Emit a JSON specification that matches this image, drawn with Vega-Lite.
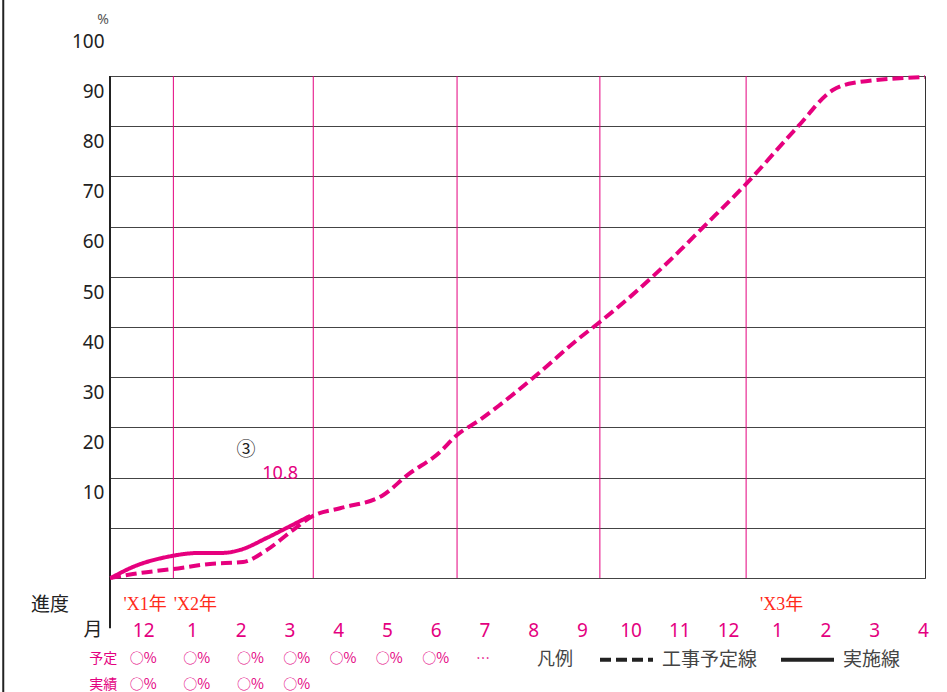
{
  "$schema": "https://vega.github.io/schema/vega-lite/v6.json",
  "width": 815,
  "height": 502,
  "autosize": {"type": "none"},
  "padding": {"left": 110, "top": 76, "right": 22, "bottom": 114},
  "background": "white",
  "config": {"view": {"stroke": "#333", "strokeWidth": 1}},
  "datasets": {
    "curves": [
      {"series": "工事予定線", "x": -0.68, "y": 0},
      {"series": "工事予定線", "x": -0.21, "y": 0.8},
      {"series": "工事予定線", "x": 0.62, "y": 1.8},
      {"series": "工事予定線", "x": 1.37, "y": 2.8},
      {"series": "工事予定線", "x": 2.05, "y": 3.2},
      {"series": "工事予定線", "x": 2.54, "y": 5.6},
      {"series": "工事予定線", "x": 3.08, "y": 9.6},
      {"series": "工事予定線", "x": 3.49, "y": 12.4},
      {"series": "工事予定線", "x": 4.04, "y": 13.9},
      {"series": "工事予定線", "x": 4.92, "y": 16.5},
      {"series": "工事予定線", "x": 5.42, "y": 20.5},
      {"series": "工事予定線", "x": 6.09, "y": 25.1},
      {"series": "工事予定線", "x": 6.44, "y": 28.5},
      {"series": "工事予定線", "x": 6.91, "y": 31.5},
      {"series": "工事予定線", "x": 7.32, "y": 34.5},
      {"series": "工事予定線", "x": 8.14, "y": 41.0},
      {"series": "工事予定線", "x": 8.9, "y": 47.4},
      {"series": "工事予定線", "x": 9.37, "y": 51.0},
      {"series": "工事予定線", "x": 9.99, "y": 56.0},
      {"series": "工事予定線", "x": 11.02, "y": 65.3},
      {"series": "工事予定線", "x": 11.43, "y": 69.3},
      {"series": "工事予定線", "x": 12.39, "y": 78.7},
      {"series": "工事予定線", "x": 13.42, "y": 89.8},
      {"series": "工事予定線", "x": 14.15, "y": 97.2},
      {"series": "工事予定線", "x": 14.56, "y": 98.6},
      {"series": "工事予定線", "x": 16.04, "y": 99.8},
      {"series": "実施線", "x": -0.66, "y": 0},
      {"series": "実施線", "x": -0.21, "y": 2.2},
      {"series": "実施線", "x": 0.49, "y": 4.2},
      {"series": "実施線", "x": 1.17, "y": 5.0},
      {"series": "実施線", "x": 1.64, "y": 5.0},
      {"series": "実施線", "x": 1.99, "y": 5.6},
      {"series": "実施線", "x": 2.54, "y": 8.0},
      {"series": "実施線", "x": 2.95, "y": 10.0},
      {"series": "実施線", "x": 3.43, "y": 12.4}
    ],
    "vlines": [
      {"x": 0.62, "y": 0, "y2": 100},
      {"x": 3.49, "y": 0, "y2": 100},
      {"x": 6.44, "y": 0, "y2": 100},
      {"x": 9.37, "y": 0, "y2": 100},
      {"x": 12.37, "y": 0, "y2": 100}
    ],
    "frameLines": [
      {"x": -0.68, "y": 100, "y2": -10},
      {"x": -2.87, "y": 116, "y2": -23}
    ],
    "blackText": [
      {"x": -1.91, "y": -5.4, "t": "進度"},
      {"x": -1.03, "y": -10.4, "t": "月"},
      {"x": 2.11, "y": 25.5, "t": "③"}
    ],
    "tableText": [
      {"x": -0.82, "y": -16.1, "t": "予定"},
      {"x": 0.0, "y": -16.1, "t": "○%"},
      {"x": 1.1, "y": -16.1, "t": "○%"},
      {"x": 2.2, "y": -16.1, "t": "○%"},
      {"x": 3.15, "y": -16.1, "t": "○%"},
      {"x": 4.1, "y": -16.1, "t": "○%"},
      {"x": 5.05, "y": -16.1, "t": "○%"},
      {"x": 6.0, "y": -16.1, "t": "○%"},
      {"x": 6.97, "y": -16.1, "t": "…"},
      {"x": -0.82, "y": -21.3, "t": "実績"},
      {"x": 0.0, "y": -21.3, "t": "○%"},
      {"x": 1.1, "y": -21.3, "t": "○%"},
      {"x": 2.2, "y": -21.3, "t": "○%"},
      {"x": 3.15, "y": -21.3, "t": "○%"}
    ],
    "yearText": [
      {"x": 0.04, "y": -5.4, "t": "'X1年"},
      {"x": 1.07, "y": -5.4, "t": "'X2年"},
      {"x": 13.1, "y": -5.4, "t": "'X3年"}
    ],
    "valueText": [{"x": 2.81, "y": 20.7, "t": "10.8"}],
    "unitText": [{"x": -0.82, "y": 111.2, "t": "%"}]
  },
  "encoding": {
    "x": {
      "field": "x",
      "type": "quantitative",
      "scale": {"domain": [-0.68, 16.04], "nice": false, "zero": false},
      "axis": {
        "values": [0, 1, 2, 3, 4, 5, 6, 7, 8, 9, 10, 11, 12, 13, 14, 15, 16],
        "labelExpr": "['12','1','2','3','4','5','6','7','8','9','10','11','12','1','2','3','4'][datum.value]",
        "grid": false,
        "ticks": false,
        "tickSize": 0,
        "domain": false,
        "labelPadding": 52,
        "labelBaseline": "middle",
        "labelFontSize": 19,
        "labelColor": "#e4007f",
        "labelFont": "Noto Sans",
        "labelOverlap": false,
        "labelFlush": false,
        "title": null
      }
    },
    "y": {
      "field": "y",
      "type": "quantitative",
      "scale": {"domain": [0, 100], "nice": false, "zero": false},
      "axis": {
        "values": [0, 10, 20, 30, 40, 50, 60, 70, 80, 90, 100],
        "labelExpr": "datum.value == 0 ? '' : datum.label",
        "grid": true,
        "gridColor": "#444",
        "gridOpacity": 1,
        "ticks": false,
        "tickSize": 0,
        "domain": false,
        "labelPadding": 6,
        "labelOffset": -35,
        "labelFontSize": 19,
        "labelColor": "#222",
        "labelFont": "Noto Sans",
        "labelOverlap": false,
        "labelFlush": false,
        "title": null
      }
    }
  },
  "layer": [
    {
      "data": {"name": "vlines"},
      "mark": {"type": "rule", "color": "#e4007f", "strokeWidth": 1},
      "encoding": {"y2": {"field": "y2"}}
    },
    {
      "data": {"name": "frameLines"},
      "mark": {"type": "rule", "color": "#222", "strokeWidth": 2},
      "encoding": {"y2": {"field": "y2"}}
    },
    {
      "data": {"name": "curves"},
      "mark": {"type": "line", "color": "#e6007e", "strokeWidth": 4, "interpolate": "monotone"},
      "encoding": {
        "strokeDash": {
          "field": "series",
          "type": "nominal",
          "scale": {"domain": ["工事予定線", "実施線"], "range": [[11, 5], [1, 0]]},
          "legend": {
            "orient": "none",
            "legendX": 427,
            "legendY": 555,
            "direction": "horizontal",
            "title": "凡例",
            "titleOrient": "left",
            "titleAnchor": "middle",
            "titleBaseline": "middle",
            "titleFontSize": 18,
            "titleFontWeight": "normal",
            "titleColor": "#444",
            "titleFont": "Noto Sans CJK JP",
            "titlePadding": 25,
            "symbolType": "stroke",
            "symbolSize": 2809,
            "symbolStrokeWidth": 4,
            "symbolStrokeColor": "#222",
            "labelFontSize": 19,
            "labelColor": "#444",
            "labelFont": "Noto Sans CJK JP",
            "labelOffset": 7,
            "columnPadding": 15,
            "encode": {
              "symbols": {"update": {"stroke": {"value": "#222"}}},
              "title": {"update": {"dy": {"value": 10}}}
            }
          }
        }
      }
    },
    {
      "data": {"name": "blackText"},
      "mark": {"type": "text", "font": "Noto Sans CJK JP", "fontSize": 19, "color": "#222", "baseline": "middle", "align": "center"},
      "encoding": {"text": {"field": "t"}}
    },
    {
      "data": {"name": "tableText"},
      "mark": {"type": "text", "font": "Noto Sans CJK JP", "fontSize": 14, "color": "#e4007f", "baseline": "middle", "align": "center"},
      "encoding": {"text": {"field": "t"}}
    },
    {
      "data": {"name": "yearText"},
      "mark": {"type": "text", "font": "Liberation Serif, Noto Sans CJK JP", "fontSize": 18, "color": "#ff2a1a", "baseline": "middle", "align": "center"},
      "encoding": {"text": {"field": "t"}}
    },
    {
      "data": {"name": "valueText"},
      "mark": {"type": "text", "font": "Noto Sans", "fontSize": 18, "color": "#e4007f", "baseline": "middle", "align": "center"},
      "encoding": {"text": {"field": "t"}}
    },
    {
      "data": {"name": "unitText"},
      "mark": {"type": "text", "font": "Noto Sans", "fontSize": 14, "color": "#555", "baseline": "middle", "align": "center"},
      "encoding": {"text": {"field": "t"}}
    }
  ]
}
